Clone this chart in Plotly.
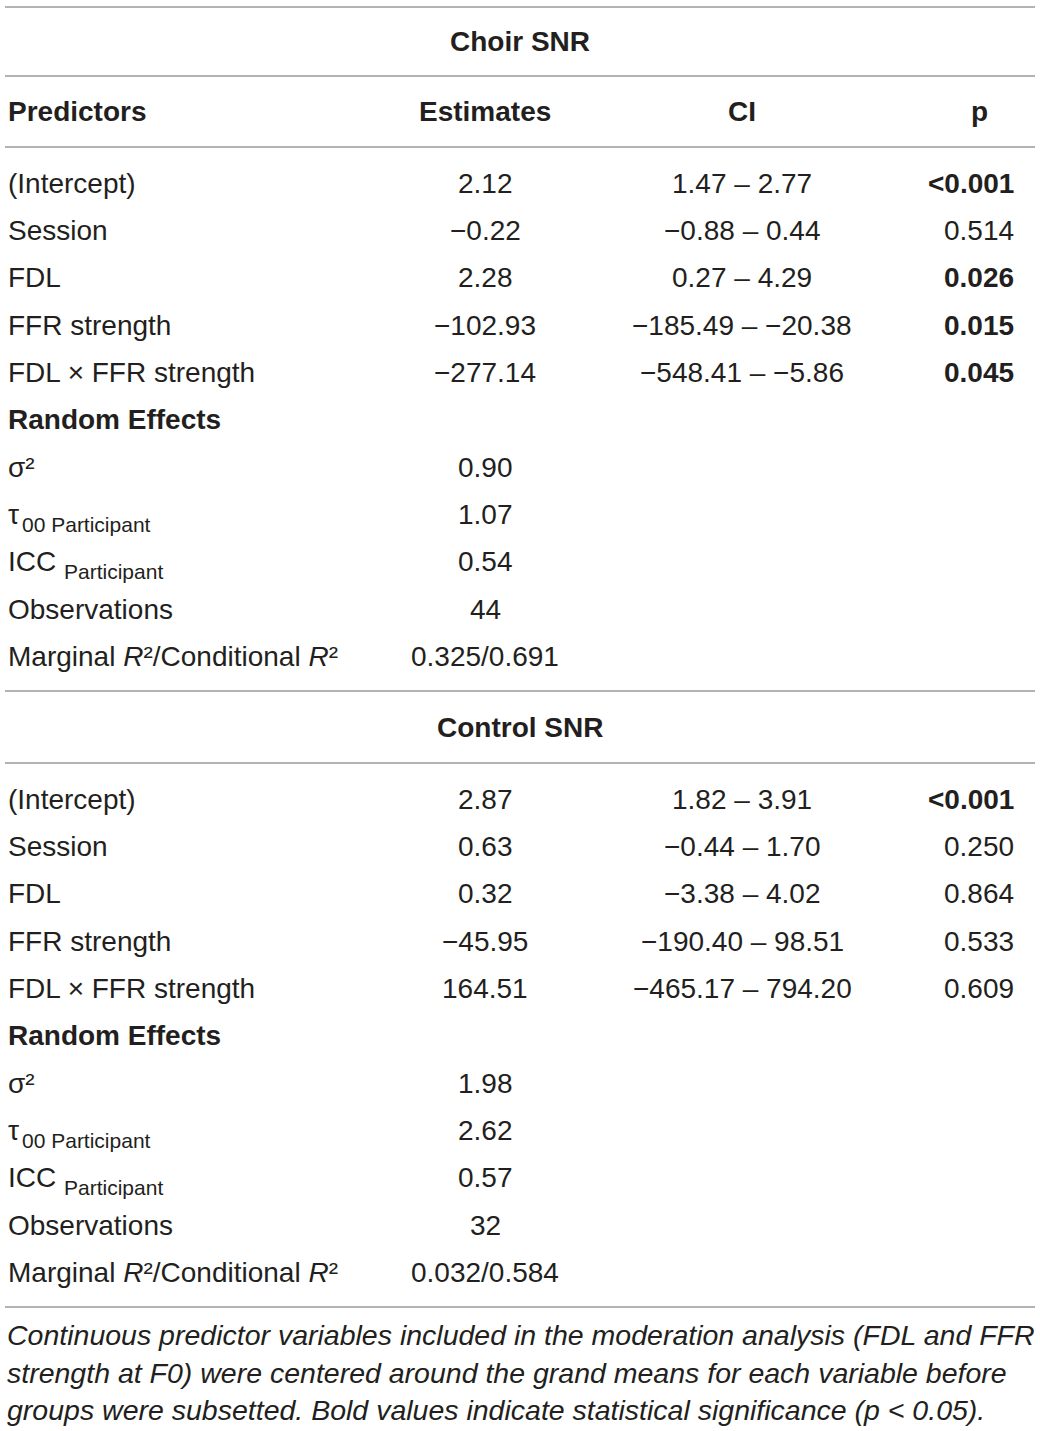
import plotly.graph_objects as go

# ---------------- data ----------------
section_titles = ["Choir SNR", "Control SNR"]
col_headers = ["Predictors", "Estimates", "CI", "p"]

predictors = ["(Intercept)", "Session", "FDL", "FFR strength", "FDL × FFR strength"]

choir_est = ["2.12", "−0.22", "2.28", "−102.93", "−277.14"]
choir_ci = ["1.47 – 2.77", "−0.88 – 0.44", "0.27 – 4.29", "−185.49 – −20.38", "−548.41 – −5.86"]
choir_p = ["<0.001", "0.514", "0.026", "0.015", "0.045"]
choir_bold = [True, False, True, True, True]

control_est = ["2.87", "0.63", "0.32", "−45.95", "164.51"]
control_ci = ["1.82 – 3.91", "−0.44 – 1.70", "−3.38 – 4.02", "−190.40 – 98.51", "−465.17 – 794.20"]
control_p = ["<0.001", "0.250", "0.864", "0.533", "0.609"]
control_bold = [True, False, False, False, False]

random_header = "Random Effects"
random_labels = ["σ²", "τ", "ICC", "Observations", "Marginal <i>R</i>²/Conditional <i>R</i>²"]
random_subs = ["", "00 Participant", "Participant", "", ""]
choir_random = ["0.90", "1.07", "0.54", "44", "0.325/0.691"]
control_random = ["1.98", "2.62", "0.57", "32", "0.032/0.584"]

footnote_lines = [
    "Continuous predictor variables included in the moderation analysis (FDL and FFR",
    "strength at F0) were centered around the grand means for each variable before",
    "groups were subsetted. Bold values indicate statistical significance (p < 0.05).",
]

# ---------------- layout constants ----------------
W, H = 1040, 1431
FONT = "Liberation Sans"
TXT = "#231f20"
LINE = "#9a9a9a"
FS = 28
SUB_FS = 21
X_LEFT, X_EST, X_CI, X_P_HDR, X_P = 6, 485, 742, 979, 1016
SUB_X = {"τ": 20, "ICC": 62}
ROW_STEP = 47.35
rule_y = [7, 76, 147, 691, 763, 1307]

fig = go.Figure()
fig.add_trace(go.Scatter(x=[0, W], y=[0, H], mode="markers", marker=dict(opacity=0), hoverinfo="skip", showlegend=False))

ann = []

def text(x, y, s, anchor="center", bold=False, size=FS, italic=False):
    ann.append(dict(x=x, y=y, xref="x", yref="y", text=s, showarrow=False,
                    xanchor=anchor, yanchor="middle",
                    font=dict(family=FONT, size=size, color=TXT,
                              weight="bold" if bold else "normal",
                              style="italic" if italic else "normal")))

def section(title, title_y, first_row_y, est, ci, p, bold, rnd, header=False):
    text(520, title_y, title, bold=True)
    if header:
        text(X_LEFT, title_y + 70, col_headers[0], anchor="left", bold=True)
        text(X_EST, title_y + 70, col_headers[1], bold=True)
        text(X_CI, title_y + 70, col_headers[2], bold=True)
        text(X_P_HDR, title_y + 70, col_headers[3], bold=True)
    for i, name in enumerate(predictors):
        y = first_row_y + i * ROW_STEP
        text(X_LEFT, y, name, anchor="left")
        text(X_EST, y, est[i])
        text(X_CI, y, ci[i])
        text(X_P, y, p[i], anchor="right", bold=bold[i])
    y = first_row_y + len(predictors) * ROW_STEP
    text(X_LEFT, y, random_header, anchor="left", bold=True)
    for j, lab in enumerate(random_labels):
        y = first_row_y + (len(predictors) + 1 + j) * ROW_STEP
        text(X_LEFT, y, lab, anchor="left")
        if random_subs[j]:
            text(SUB_X[lab], y + 10, random_subs[j], anchor="left", size=SUB_FS)
        text(X_EST, y, rnd[j])

section(section_titles[0], 41, 183, choir_est, choir_ci, choir_p, choir_bold, choir_random, header=True)
section(section_titles[1], 727, 799, control_est, control_ci, control_p, control_bold, control_random)

for k, line in enumerate(footnote_lines):
    text(5, 1335 + k * 37.5, line, anchor="left", italic=True, size=28.5)

shapes = [dict(type="line", xref="x", yref="y", x0=5, x1=1035, y0=yy, y1=yy,
               line=dict(color=LINE, width=1.5)) for yy in rule_y]

fig.update_layout(
    width=W, height=H, margin=dict(l=0, r=0, t=0, b=0),
    paper_bgcolor="white", plot_bgcolor="white",
    xaxis=dict(range=[0, W], visible=False, fixedrange=True),
    yaxis=dict(range=[H, 0], visible=False, fixedrange=True),
    annotations=ann, shapes=shapes, showlegend=False,
)
fig.write_html("out.html", config={"displayModeBar": False},
               post_script="document.body.style.margin='0px';document.body.style.overflow='hidden';")
